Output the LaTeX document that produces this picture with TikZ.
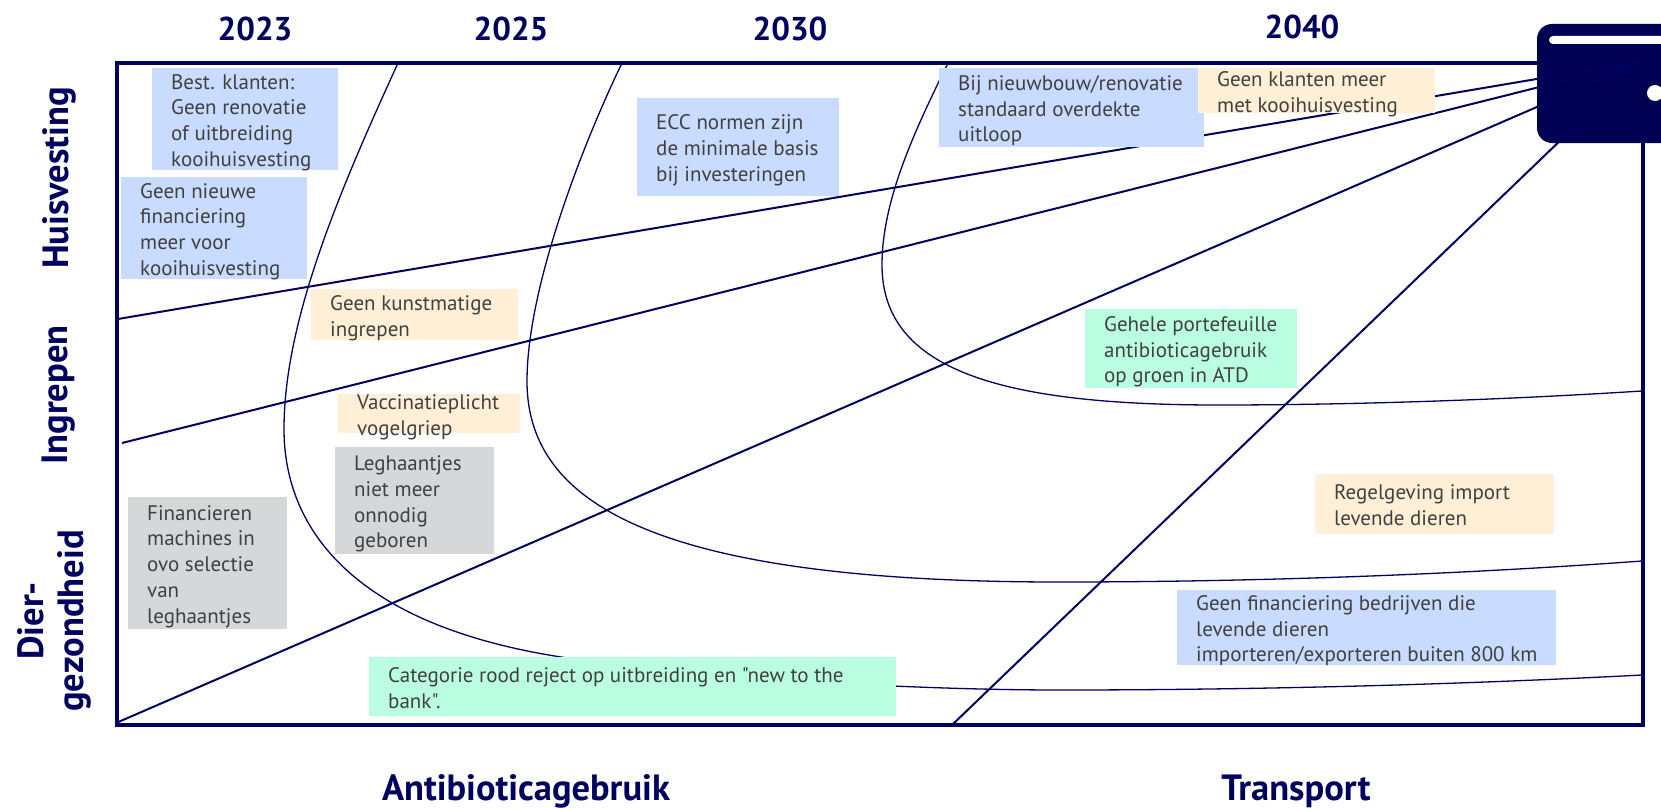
\documentclass[tikz,border=0pt]{standalone}
\usepackage{fontspec}
\newfontfamily\bodyfont{PT Sans}
\setmainfont{PT Sans}
\definecolor{navy}{HTML}{00005F}
\definecolor{walletnavy}{HTML}{000052}
\definecolor{txt}{HTML}{404040}
\definecolor{bluebox}{HTML}{C9DBFF}
\definecolor{creambox}{HTML}{FFEFD6}
\definecolor{mintbox}{HTML}{BBFFE3}
\definecolor{greybox}{HTML}{D6D7D9}
\newcommand{\tbox}[7]{%
  \pgfmathsetmacro{\bw}{#3-#2}\pgfmathsetmacro{\bh}{#5-#4}\pgfmathsetmacro{\tw}{#3-#2-19}%
  \node[fill=#7,anchor=north west,minimum width=\bw pt,minimum height=\bh pt,inner xsep=0pt,inner ysep=0pt,text=txt,font=\bodyfont\fontsize{21}{25.7}\selectfont] (#1) at (#2,#4)
    {\hspace*{19pt}\raisebox{-8.5pt}[0pt][0pt]{\parbox[c]{\tw pt}{\raggedright\strut #6\strut}}};}
\tikzset{
  head/.style={text=navy,font=\fontsize{36.5}{40}\selectfont\bfseries},
  yearlab/.style={text=navy,font=\fontsize{33}{40}\selectfont\bfseries},
  axislab/.style={head,align=center,rotate=90},
  straightline/.style={navy,line width=2pt},
  curveline/.style={navy,line width=1.3pt}
}
\begin{document}
\begin{tikzpicture}[x=1pt,y=-1pt]
\useasboundingbox (0,0) rectangle (1661,808);
\coordinate (apex) at (1643,61);
\coordinate (l1) at (118,319);
\coordinate (l2) at (122,443);
\coordinate (l3) at (116,723);
\coordinate (l4) at (952,725);
\draw[navy,line width=4pt] (117,63) rectangle (1643,725);
\fill[walletnavy,rounded corners=15pt] (1537,24) rectangle (1680,143);
\fill[white,rounded corners=4pt] (1549,36) rectangle (1680,44);
\node[circle,fill=white,minimum size=16pt,inner sep=0pt] (dot) at (1655,93) {};
\draw[straightline] (l1) -- (apex);
\draw[straightline] (l2) -- (apex);
\draw[straightline] (l3) -- (apex);
\draw[straightline] (l4) -- (apex);
\draw[curveline] (398,63) .. controls (340,190) and (284,320) .. (284,429) .. controls (284,530) and (355,625) .. (561,657) .. controls (680,676) and (900,690) .. (1060,690) .. controls (1250,690) and (1450,685) .. (1642,675);
\draw[curveline] (622,63) .. controls (580,150) and (527,290) .. (527,381) .. controls (527,500) and (647,582) .. (1059,582) .. controls (1250,582) and (1450,575) .. (1642,561);
\draw[curveline] (948,63) .. controls (915,130) and (882,200) .. (882,265) .. controls (882,370) and (1000,405) .. (1218,405) .. controls (1350,405) and (1500,400) .. (1642,391);
\tbox{a}{152}{338}{68}{170}{Best. klanten:\\Geen renovatie\\of uitbreiding\\kooihuisvesting}{bluebox}
\tbox{b}{121}{307}{177}{279}{Geen nieuwe\\financiering\\meer voor\\kooihuisvesting}{bluebox}
\tbox{c}{311}{518}{289}{340}{Geen kunstmatige\\ingrepen}{creambox}
\tbox{d}{338}{520}{394}{433}{Vaccinatieplicht\\vogelgriep}{creambox}
\tbox{e}{335}{494}{447}{554}{Leghaantjes\\niet meer\\onnodig\\geboren}{greybox}
\tbox{f}{128}{287}{497}{629}{Financieren\\machines in\\ovo selectie\\van\\leghaantjes}{greybox}
\tbox{g}{369}{896}{657}{716}{Categorie rood reject op uitbreiding en "new to the\\bank".}{mintbox}
\tbox{h}{637}{839}{98}{196}{ECC normen zijn\\de minimale basis\\bij investeringen}{bluebox}
\tbox{i}{939}{1204}{68}{147}{Bij nieuwbouw/renovatie\\standaard overdekte\\uitloop}{bluebox}
\tbox{j}{1198}{1435}{68}{113}{Geen klanten meer\\met kooihuisvesting}{creambox}
\tbox{k}{1085}{1297}{309}{388}{Gehele portefeuille\\antibioticagebruik\\op groen in ATD}{mintbox}
\tbox{m}{1315}{1554}{474}{534}{Regelgeving import\\levende dieren}{creambox}
\tbox{n}{1177}{1556}{590}{665}{Geen financiering bedrijven die\\levende dieren\\importeren/exporteren buiten 800 km}{bluebox}
\node[yearlab] (y1) at (255,29) {2023};
\node[yearlab] (y2) at (511,29) {2025};
\node[yearlab] (y3) at (790,29) {2030};
\node[yearlab] (y4) at (1302,27) {2040};
\node[head] (xa) at (526,791) {Antibioticagebruik};
\node[head] (xb) at (1296,791) {Transport};
\node[axislab] (ya) at (59,178) {Huisvesting};
\node[axislab] (yb) at (59,395) {Ingrepen};
\node[axislab] (yc) at (54,621) {Dier-\\gezondheid};
\end{tikzpicture}
\end{document}
